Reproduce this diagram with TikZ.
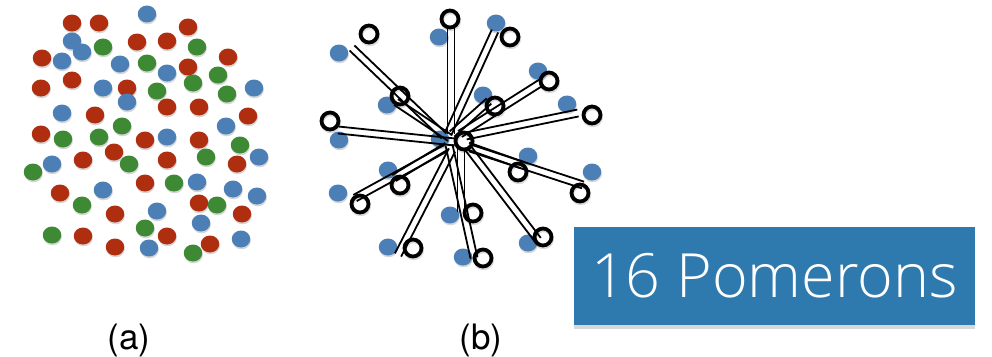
\documentclass[tikz,border=0pt]{standalone}
\usepackage{fontspec}
\setmainfont{TeX Gyre Heros}
\newfontfamily\boxfont{Open Sans Light}
\usetikzlibrary{calc,shapes.geometric,shadows}

\definecolor{pred}{RGB}{176,46,16}
\definecolor{pgreen}{RGB}{62,138,52}
\definecolor{pblue}{RGB}{76,127,182}
\definecolor{boxblue}{RGB}{46,122,175}

\tikzset{
  partshadow/.style={preaction={fill=black, opacity=0.16, transform canvas={shift={(0.6pt,-1.8pt)}}}},
  dot/.style={ellipse, inner sep=0pt, minimum width=18.5pt, minimum height=17pt, partshadow},
  ring/.style={circle, draw=black, line width=3.8pt, inner sep=0pt, minimum size=17pt,
               preaction={draw=black, line width=3.8pt, opacity=0.15, transform canvas={shift={(0.6pt,-1.8pt)}}}},
  strand/.style={draw=black, line width=1.8pt},
  caption/.style={font=\fontsize{35}{40}\selectfont, anchor=base},
  pombox/.style={fill=boxblue, text=white, minimum width=401pt, minimum height=98pt, inner sep=0pt,
                 font=\boxfont\fontsize{61}{70}\selectfont,
                 drop shadow={shadow xshift=0pt, shadow yshift=-4pt, opacity=0.3}}
}

\begin{document}
\begin{tikzpicture}[x=1pt,y=-1pt]
\useasboundingbox (0,0) rectangle (992,356);
\fill[white] (0,0) rectangle (992,356);

% ---------- (a) coloured partons ----------
\foreach \px/\py/\c [count=\i] in {
  147/14/pblue, 72/23/pred, 99/23/pred, 188/27/pred,
  72/41/pblue, 82/52/pblue, 103/47/pgreen, 137/42/pred, 167/41/pred, 197/47/pgreen,
  42/58/pred, 62/61/pblue, 120/64/pblue, 147/63/pgreen, 188/67/pred, 167/73/pblue,
  228/57/pred, 218/75/pgreen, 72/80/pred, 41/88/pred, 103/88/pblue, 127/88/pred,
  157/91/pgreen, 193/83/pgreen, 227/94/pgreen, 254/88/pblue, 127/102/pblue,
  167/107/pred, 199/107/pred, 62/113/pblue, 95/115/pred, 248/116/pred,
  122/126/pgreen, 226/126/pblue, 41/134/pred, 63/139/pgreen, 99/137/pgreen,
  145/140/pred, 167/137/pblue, 199/140/pred, 240/145/pgreen, 114/152/pred,
  83/160/pred, 129/164/pgreen, 167/160/pred, 206/157/pgreen, 237/164/pred,
  259/157/pblue, 33/172/pgreen, 52/164/pblue, 60/193/pred, 103/190/pblue,
  145/183/pred, 174/183/pgreen, 197/182/pblue, 233/189/pblue, 257/196/pblue,
  82/205/pgreen, 115/214/pred, 157/211/pblue, 199/203/pred, 217/205/pgreen,
  242/214/pred, 201/223/pblue, 52/235/pgreen, 83/236/pred, 145/228/pgreen,
  167/236/pred, 115/247/pred, 149/248/pblue, 210/244/pred, 193/253/pgreen,
  241/239/pblue}
  \node[dot, fill=\c] (a\i) at (\px,\py) {};

% ---------- (b) partons, pomeron strands and cut ends ----------
\foreach \px/\py [count=\i] in {
  339/53, 439/37, 496/23, 538/71, 387/105, 483/95, 567/104, 339/140,
  528/156, 592/172, 388/170, 338/193, 450/215, 388/247, 528/243, 463/257, 440/139}
  \node[dot, fill=pblue] (b\i) at (\px,\py) {};

% outer and inner ends of the sixteen pomerons
\foreach \ox/\oy/\ix/\iy [count=\i] in {
  352/48/444/136, 451/27/451/134, 495/31/448/134, 542/82/460/134,
  396/102/450/138, 489/101/452/134, 578/113/466/136, 338/130/455/142,
  522/165/468/146, 583/185/470/148, 394/178/447/146, 355/198/446/148,
  461/212/461/148, 398/255/452/150, 538/240/468/148, 474/258/449/145}
{
  \coordinate (o\i) at (\ox,\oy);
  \coordinate (n\i) at (\ix,\iy);
  \draw[strand] ($(o\i)!3.5pt!90:(n\i)$) -- ($(n\i)!3.5pt!-90:(o\i)$);
  \draw[strand] ($(o\i)!3.5pt!-90:(n\i)$) -- ($(n\i)!3.5pt!90:(o\i)$);
}

\foreach \px/\py [count=\i] in {
  369/34, 450/19, 510/37, 549/81, 400/96, 495/106, 592/115, 330/121,
  518/172, 580/193, 400/185, 360/204, 473/213, 413/248, 543/237, 483/258, 464/141}
  \node[ring] (r\i) at (\px,\py) {};

% ---------- captions ----------
\node[caption] (capa) at (129,349) {(a)};
\node[caption] (capb) at (481,349) {(b)};

\node[pombox] (pom) at (774.5,276) {16 Pomerons};
\end{tikzpicture}
\end{document}
